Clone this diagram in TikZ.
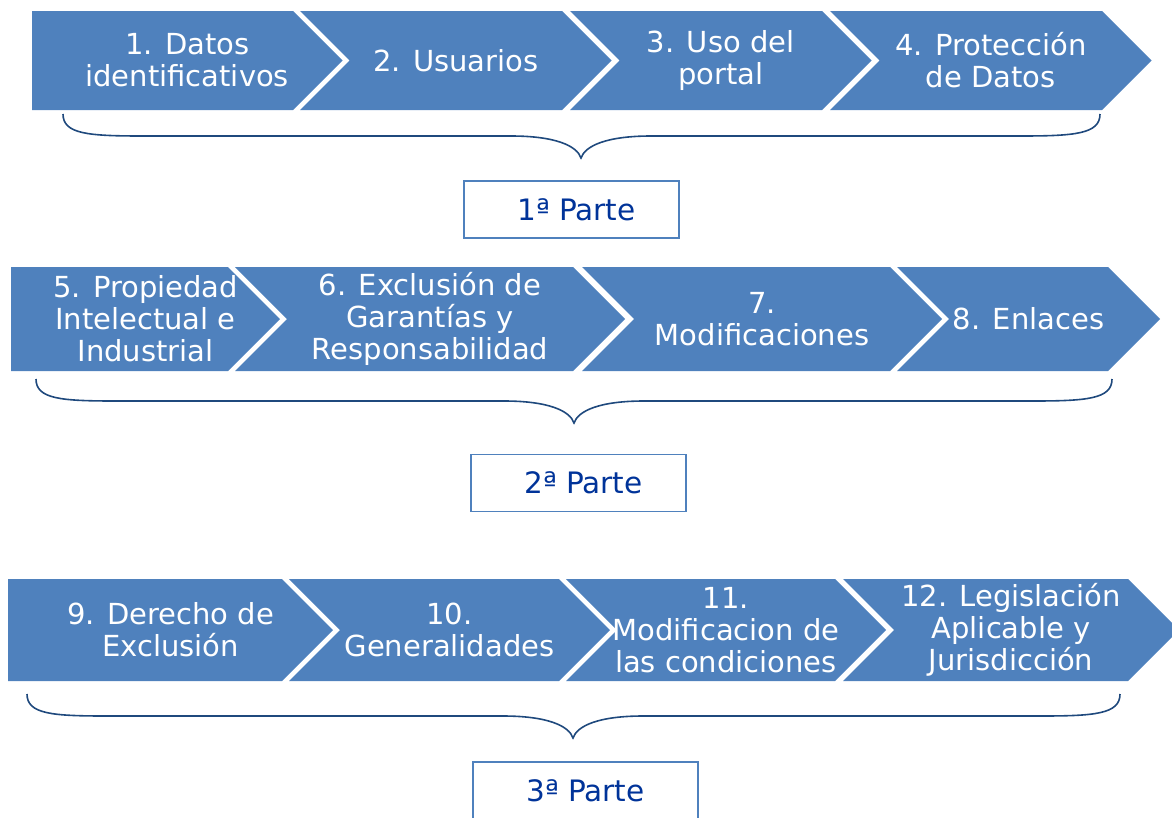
\documentclass[tikz,border=0pt]{standalone}
\usepackage{fontspec}
\setmainfont{DejaVu Sans}
\usetikzlibrary{positioning}
\definecolor{azul}{RGB}{79,129,189}
\definecolor{azuloscuro}{RGB}{31,73,125}
\definecolor{azultexto}{RGB}{0,51,153}

% paso: nombre, x izq, x esquina, y centro, semialto, muesca, texto
\newcommand{\paso}[7]{%
  \fill[azul] (#2,{#4-#5}) -- (#3,{#4-#5}) -- ({#3+#5},#4) -- (#3,{#4+#5})
    -- (#2,{#4+#5}) -- ({#2+#6},#4) -- cycle;
  \node[texto] (#1) at ({(#2+#3+#5)/2},#4) {#7};}

% llave: x izq, x der, x punta, y arriba
\newcommand{\llave}[4]{%
  \draw[llave] (#1,#4) .. controls (#1,{#4+20}) and ({#1+25},{#4+22}) .. ({#1+80},{#4+22})
    -- ({#3-70},{#4+22}) .. controls ({#3-25},{#4+22}) and ({#3-4},{#4+32}) .. (#3,{#4+44})
    .. controls ({#3+4},{#4+32}) and ({#3+25},{#4+22}) .. ({#3+70},{#4+22})
    -- ({#2-80},{#4+22}) .. controls ({#2-25},{#4+22}) and (#2,{#4+20}) .. (#2,#4);}

\tikzset{
  texto/.style={text=white, inner sep=0pt, align=center,
    font=\fontsize{29pt}{32pt}\selectfont},
  parte/.style={draw=azul, line width=1.5pt, text=azultexto, inner sep=0pt,
    minimum width=215pt, minimum height=57pt, font=\fontsize{29.5pt}{34pt}\selectfont},
  llave/.style={draw=azuloscuro, line width=1.6pt},
}

\begin{document}
\begin{tikzpicture}[x=1pt,y=-1pt]
  \useasboundingbox (0,0) rectangle (1172,817);

  % 1a parte
  \paso{datos}{32}{293}{60.5}{49.5}{0}{1. Datos\\identificativos}
  \paso{usuarios}{300}{562}{60.5}{49.5}{49.5}{2. Usuarios}
  \paso{uso}{570}{822}{60.5}{49.5}{49.5}{3. Uso del\\portal}
  \paso{proteccion}{830}{1102}{60.5}{49.5}{49.5}{4. Protección\\de Datos}
  \llave{63}{1100}{581}{114}
  \node[parte] (parte1) at (571.5,209.5) {\hspace{10pt}1ª Parte};

  % 2a parte
  \paso{propiedad}{11}{228}{319}{52}{0}{5. Propiedad\\Intelectual e\\Industrial}
  \paso{exclusion}{235}{573}{319}{52}{52}{6. Exclusión de\\Garantías y\\Responsabilidad}
  \paso{modif}{582}{890}{319}{52}{52}{7.\\Modificaciones}
  \paso{enlaces}{897}{1108}{319}{52}{52}{8. Enlaces}
  \llave{36}{1112}{574}{379}
  \node[parte] (parte2) at (578.5,483) {\hspace{10pt}2ª Parte};

  % 3a parte
  \paso{derecho}{8}{282}{630}{51}{0}{9. Derecho de\\Exclusión}
  \paso{general}{289}{559}{630}{51}{51}{10.\\Generalidades}
  \paso{condiciones}{566}{835}{630}{51}{51}{11.\\Modificacion de\\las condiciones}
  \paso{legislacion}{843}{1128}{630}{51}{51}{12. Legislación\\Aplicable y\\Jurisdicción}
  \llave{27}{1120}{573}{694}
  \node[parte, minimum width=225pt] (parte3) at (585.5,790.5) {3ª Parte};
\end{tikzpicture}
\end{document}
